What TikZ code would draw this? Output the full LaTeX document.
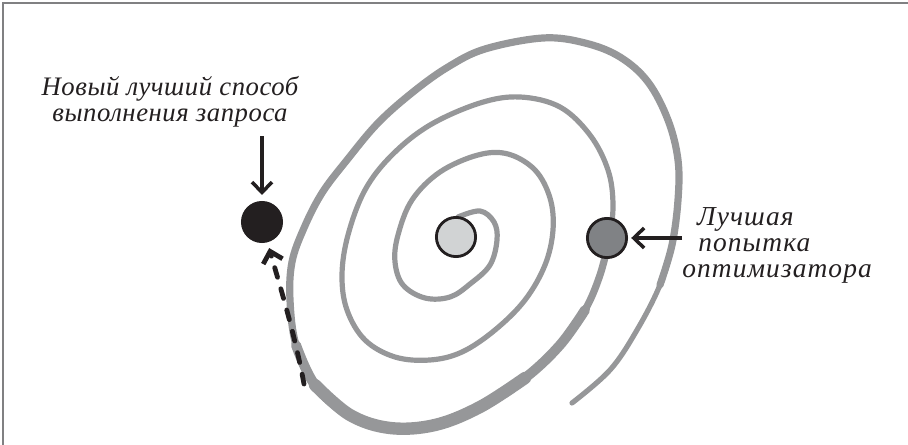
\documentclass[tikz,border=0pt]{standalone}
\usepackage{fontspec}
\setmainfont{Liberation Serif}
\usetikzlibrary{arrows.meta,positioning}

\definecolor{spiralgray}{RGB}{150,151,153}
\definecolor{framegray}{RGB}{128,128,130}
\definecolor{inkblack}{RGB}{35,31,32}
\definecolor{lightdot}{RGB}{209,211,212}
\definecolor{middot}{RGB}{128,130,133}

\begin{document}
\begin{tikzpicture}[
    x=0.025cm, y=-0.025cm,
    spiral/.style={draw=spiralgray, line cap=round, line join=round},
    dot/.style={circle, draw=inkblack, line width=2pt, minimum size=0.98cm, inner sep=0pt},
    arrowline/.style={draw=inkblack, line width=2.5pt, -{Straight Barb[length=0.26cm, width=0.5cm]}},
    note/.style={font=\itshape\fontsize{19}{18.5}\selectfont\addfontfeature{LetterSpace=2}, text=inkblack, inner sep=0pt},
    widenote/.style={font=\itshape\fontsize{19.5}{18.5}\selectfont\addfontfeature{LetterSpace=4}, text=inkblack, inner sep=0pt}
]
\useasboundingbox (0,0) rectangle (908,445);

% frame
\draw[framegray, line width=0.05cm] (3,445) -- (3,3) -- (908,3);

% spiral, thin base
\draw[spiral, line width=0.13cm] plot[smooth, tension=0.6] coordinates {
  (458,217) (480,211) (494,222) (497,240) (490,265) (470,284) (450,297) (425,298)
  (403,285) (395,262) (398,235) (412,200) (440,172) (478,155) (508,154) (535,170)
  (550,198) (553,230) (545,265) (525,300) (495,330) (462,352) (430,360) (395,357)
  (365,340) (347,310) (342,275) (348,235) (365,190) (392,155) (430,125) (480,103)
  (520,97) (560,107) (590,135) (608,170) (613,205) (609,240) (600,275) (585,310)
  (560,345) (525,378) (480,407) (435,425) (390,428) (350,415) (315,385) (296,345)
  (290,300) (292,262) (304,228) (322,193) (347,160) (378,123) (413,92) (448,67)
  (485,49) (543,38) (585,43) (620,57) (648,82) (668,120) (678,160) (678,200)
  (672,245) (660,285) (637,330) (610,370) (572,403)};
% outer turn, thicker
\draw[spiral, line width=0.18cm] plot[smooth, tension=0.6] coordinates {
  (609,240) (600,275) (585,310) (560,345) (525,378) (480,407) (435,425) (390,428)
  (350,415) (315,385) (296,345) (290,300) (292,262) (304,228) (322,193) (347,160)
  (378,123) (413,92) (448,67) (485,49) (543,38) (585,43) (620,57) (648,82)
  (668,120) (678,160) (678,200) (672,245) (660,285)};
\draw[spiral, line width=0.25cm] plot[smooth, tension=0.6] coordinates {
  (585,310) (560,345) (525,378) (480,407) (435,425) (390,428) (350,415) (315,385)
  (296,345)};
\draw[spiral, line width=0.31cm] plot[smooth, tension=0.6] coordinates {
  (525,378) (480,407) (435,425) (390,428) (350,415) (315,385)};

% points
\node[dot, fill=lightdot] (centre) at (456,237) {};
\node[dot, fill=middot] (best) at (607,238) {};
\node[dot, fill=inkblack] (newbest) at (262,222) {};

% labels
\node[note, align=center, anchor=north] (newlabel) at (170,76) {Новый лучший способ\\выполнения запроса};
\node[widenote, align=left, anchor=north west] (optlabel) at (682,207) {\hspace{0.37cm}Лучшая\\\hspace{0.4cm}попытка\\оптимизатора};

% arrows
\coordinate (dashstart) at (304,384);
\draw[arrowline, shorten <=0.22cm, shorten >=0.15cm] (newbest |- newlabel.south) -- (newbest);
\draw[arrowline, shorten >=0.08cm] (optlabel.west |- best) -- (best);
\draw[arrowline, line width=0.12cm, line cap=round, dash pattern=on 0.25cm off 0.3cm, shorten >=0.15cm]
  (dashstart) .. controls (294,330) and (278,280) .. (newbest);

\end{tikzpicture}
\end{document}
